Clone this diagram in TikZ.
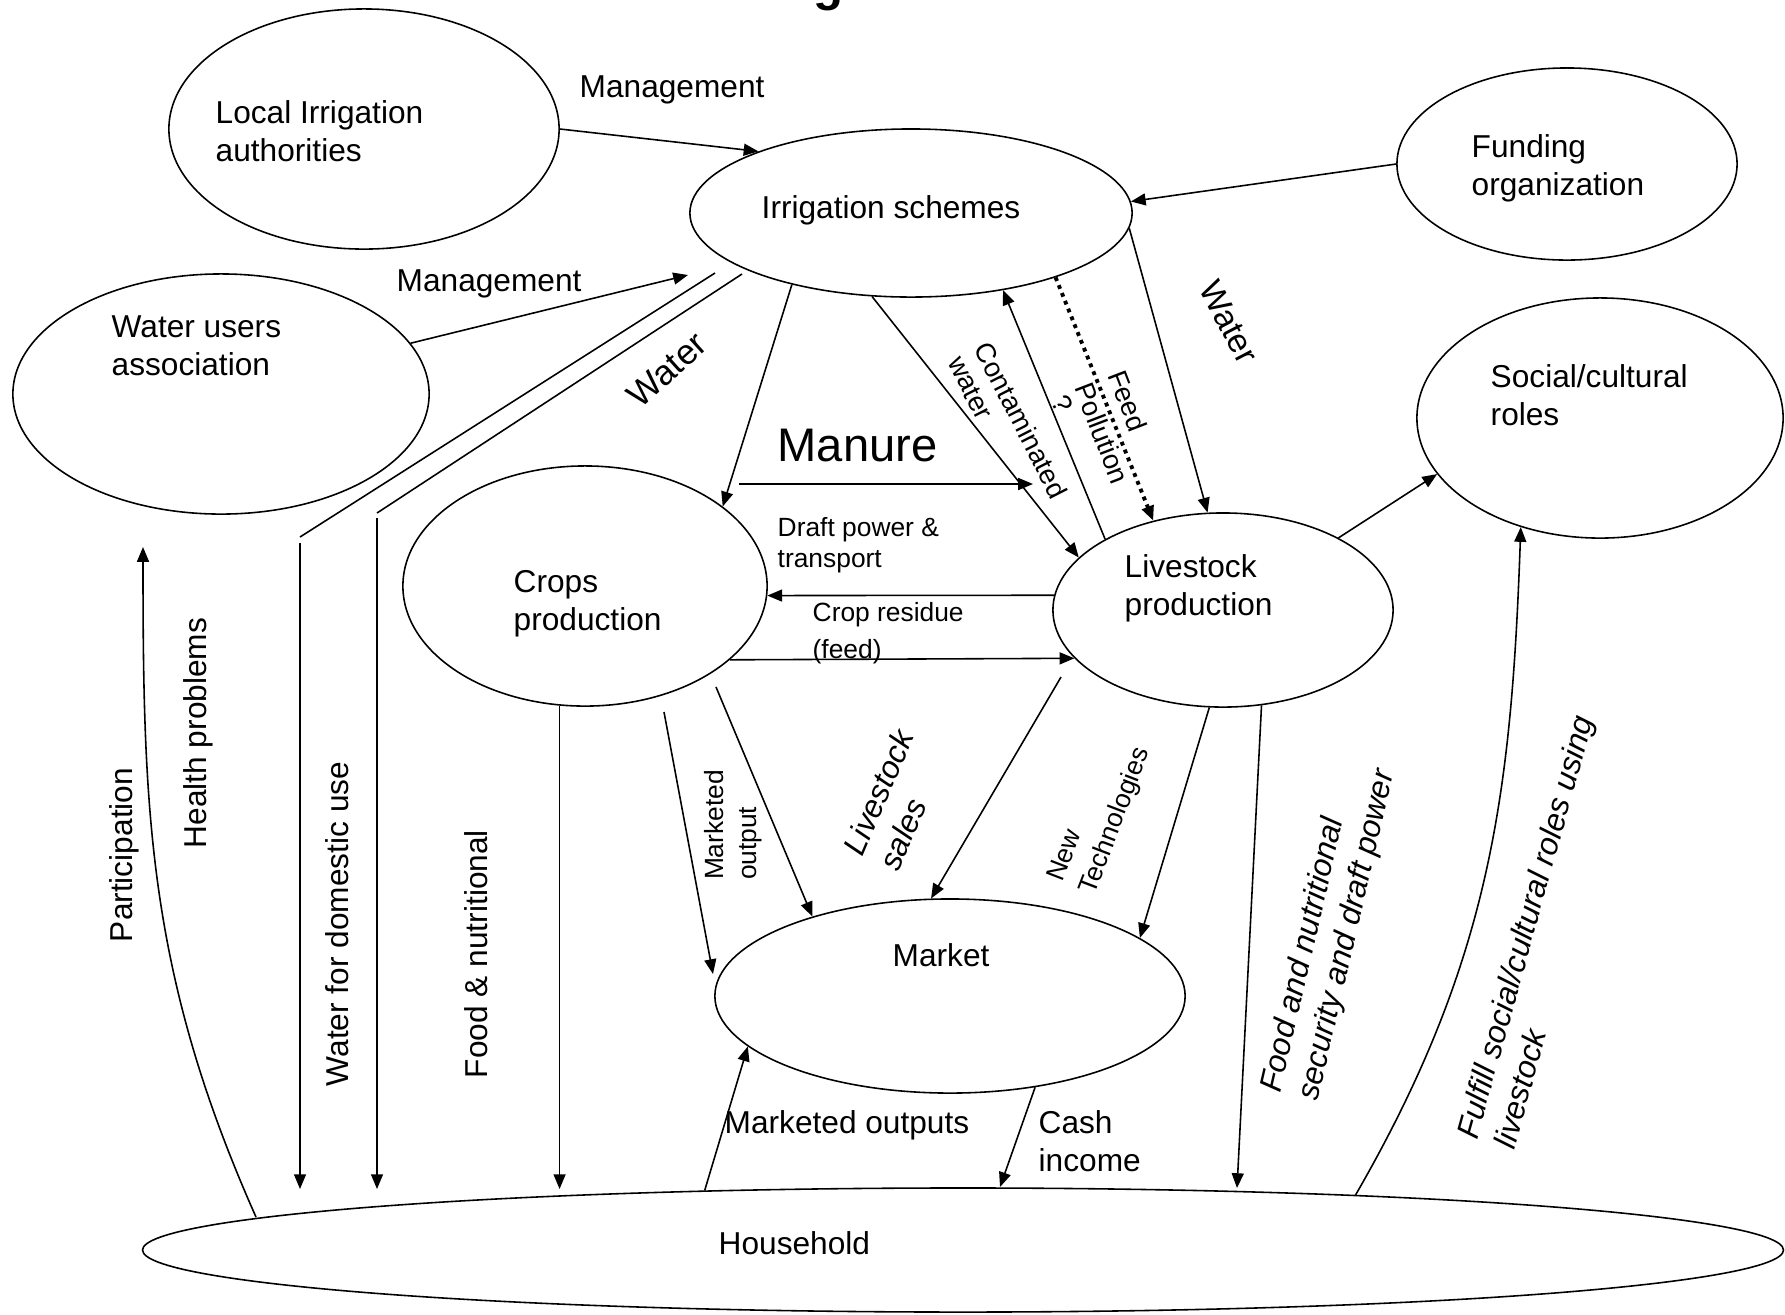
\documentclass[tikz,border=0pt]{standalone}
\usepackage{fontspec}
\setmainfont{Liberation Sans}
\usetikzlibrary{arrows.meta,shapes.geometric}

\begin{document}
\begin{tikzpicture}[x=0.01cm,y=-0.01cm,
  blob/.style={draw,ellipse,line width=0.45pt,inner sep=0pt},
  txt/.style={inner sep=0pt,align=left,font=\fontsize{9}{10.6}\selectfont},
  tiny/.style={inner sep=0pt,align=left},
  flow/.style={line width=0.45pt,-{Triangle[length=4.2pt,width=3.4pt]}},
  pipe/.style={line width=0.45pt}]
 \useasboundingbox (0,0) rectangle (1785,1314);
 %\draw[step=100, gray, very thin] (0,0) grid (1785,1314);

 \node[font=\fontsize{14}{14}\selectfont\bfseries,anchor=base,inner sep=0pt] (ttl) at (829,0) {g};

 \node[blob,minimum width=3.9cm,minimum height=2.4cm] (lia) at (364,129) {};
 \node[blob,minimum width=4.42cm,minimum height=1.68cm] (irr) at (911,213) {};
 \node[blob,minimum width=3.4cm,minimum height=1.92cm] (fund) at (1567,164) {};
 \node[blob,minimum width=4.16cm,minimum height=2.4cm] (wua) at (221,394) {};
 \node[blob,minimum width=3.66cm,minimum height=2.4cm] (soc) at (1600,418) {};
 \node[blob,minimum width=3.64cm,minimum height=2.4cm] (crop) at (585,586) {};
 \node[blob,minimum width=3.4cm,minimum height=1.94cm] (live) at (1223,610) {};
 \node[blob,minimum width=4.7cm,minimum height=1.94cm] (mkt) at (950,996) {};
 \node[blob,minimum width=16.4cm,minimum height=1.24cm] (hh) at (963,1250) {};

 % base of a two-line text = baseline of its last line
 \node[txt,anchor=base west] (liatxt) at (215,161) {Local Irrigation\\authorities};
 \node[txt,anchor=base west] (irrtxt) at (761,218) {Irrigation schemes};
 \node[txt,anchor=base west] (fundtxt) at (1471,195) {Funding\\organization};
 \node[txt,anchor=base west] (wuatxt) at (111,375) {Water users\\association};
 \node[txt,anchor=base west] (soctxt) at (1490,425) {Social/cultural\\roles};
 \node[txt,anchor=base west] (croptxt) at (513,630) {Crops\\production};
 \node[txt,anchor=base west] (livetxt) at (1124,615) {Livestock\\production};
 \node[txt,anchor=base west] (mkttxt) at (892,966) {Market};
 \node[txt,anchor=base west] (hhtxt) at (718,1254) {Household};

 \coordinate (mgB) at (688,275);
 \coordinate (wA1) at (715,273);
 \coordinate (wA2) at (300,537);
 \coordinate (wA3) at (300,543);
 \coordinate (wB1) at (742,274);
 \coordinate (wB2) at (377,513);
 \coordinate (wB3) at (377,518);
 \coordinate (hhtop) at (0,1189);
 \coordinate (partA) at (256,1217);
 \coordinate (partB) at (143,547);
 \coordinate (manA) at (739,484);
 \coordinate (manB) at (1033,484);
 \coordinate (moA) at (664,712);
 \coordinate (moB) at (713,974);
 \coordinate (crB) at (716,687);
 \coordinate (lsA) at (1061,677);
 \coordinate (cashB) at (1000,1187);
 \coordinate (fsB) at (1237,1188);

 \draw[flow] (lia.east) -- (irr.158);
 \draw[flow] (fund.west) -- (irr.3);
 \draw[flow] (wua.15) -- (mgB);
 \draw[pipe] (wA1) -- (wA2);
 \draw[flow] (wA3) -- (wA3 |- hhtop);
 \draw[pipe] (wB1) -- (wB2);
 \draw[flow] (wB3) -- (wB3 |- hhtop);
 \draw[flow] (partA) to[out=114,in=-90] (partB);

 \draw[flow] (irr.211) -- (crop.30);
 \draw[flow] (irr.245) -- (live.160);
 \draw[flow] (live.149) -- (irr.-40);
 \draw[flow,line width=1.1pt,dash pattern=on 1.1pt off 1.3pt] (irr.-24) -- (live.128);
 \draw[flow] (irr.-4) -- (live.99);

 \draw[flow] (manA) -- (manB);
 \draw[flow] (live.175) -- (crop.-3);
 \draw[flow] (crop.-27) -- (live.198);

 \draw[flow] (crop.258) -- (crop.258 |- hhtop);
 \draw[flow] (moA) -- (moB);
 \draw[flow] (crB) -- (mkt.150);
 \draw[flow] (lsA) -- (mkt.101);
 \draw[flow] (live.262) -- (mkt.17);
 \draw[flow] (live.-68) -- (fsB);
 \draw[flow] (live.32) -- (soc.199);
 \draw[flow] (hh.8) to[out=60,in=-92] (soc.234);
 \draw[flow] (mkt.-47) -- (cashB);
 \draw[flow] (hh.167) -- (mkt.194);

 \node[txt,anchor=base west] (mgtop) at (579,97) {Management};
 \node[txt,anchor=base west] (mgwua) at (396,291) {Management};
 \node[txt,anchor=base west,font=\fontsize{13.4}{16}\selectfont] (manure) at (777,461) {Manure};
 \node[tiny,anchor=base west,font=\fontsize{7.5}{8.8}\selectfont] (draft) at (777,567) {Draft power \&\\transport};
 \node[tiny,anchor=base west,font=\fontsize{7.5}{10.5}\selectfont] (resid) at (812,658) {Crop residue\\(feed)};
 \node[txt,anchor=base west] (mktout) at (724,1133) {Marketed outputs};
 \node[txt,anchor=base west] (cash) at (1038,1171) {Cash\\income};

 \node[txt,rotate=90] (partic) at (124,855) {Participation};
 \node[txt,rotate=90] (health) at (198,733) {Health problems};
 \node[txt,rotate=90] (wdom) at (337,924) {Water for domestic use};
 \node[txt,rotate=90] (foodnut) at (476,954) {Food \& nutritional};
 \node[tiny,rotate=90,font=\fontsize{7.5}{9.3}\selectfont] (mkdout) at (733,825) {Marketed\\output};
 \node[txt,rotate=42,font=\fontsize{10}{12}\selectfont] (waterL) at (667,370) {Water};
 \node[txt,rotate=-62.5,font=\fontsize{9.5}{11}\selectfont] (waterR) at (1229,322) {Water};
 \node[tiny,rotate=-63,font=\fontsize{7.8}{8.6}\selectfont] (contam) at (1008,427) {Contaminated\\water};
 \node[tiny,rotate=-63,font=\fontsize{7.8}{8.6}\selectfont] (qmark) at (1062,404) {?};
 \node[tiny,rotate=-69,font=\fontsize{7.8}{10.1}\selectfont] (feedpol) at (1119,427) {Feed\\Pollution};
 \node[txt,rotate=67,font=\fontsize{9}{11}\selectfont\itshape] (lsales) at (896,800) {Livestock\\sales};
 \node[tiny,rotate=69,font=\fontsize{7.5}{9.8}\selectfont] (newtech) at (1100,815) {New\\Technologies};
 \node[txt,rotate=77,font=\fontsize{9}{11}\selectfont\itshape] (foodsec) at (1329,931) {Food and nutritional\\security and draft power};
 \node[txt,rotate=74.5,font=\fontsize{9}{11}\selectfont\itshape] (fulfil) at (1543,932) {Fulfill social/cultural roles using\\livestock};
\end{tikzpicture}
\end{document}
